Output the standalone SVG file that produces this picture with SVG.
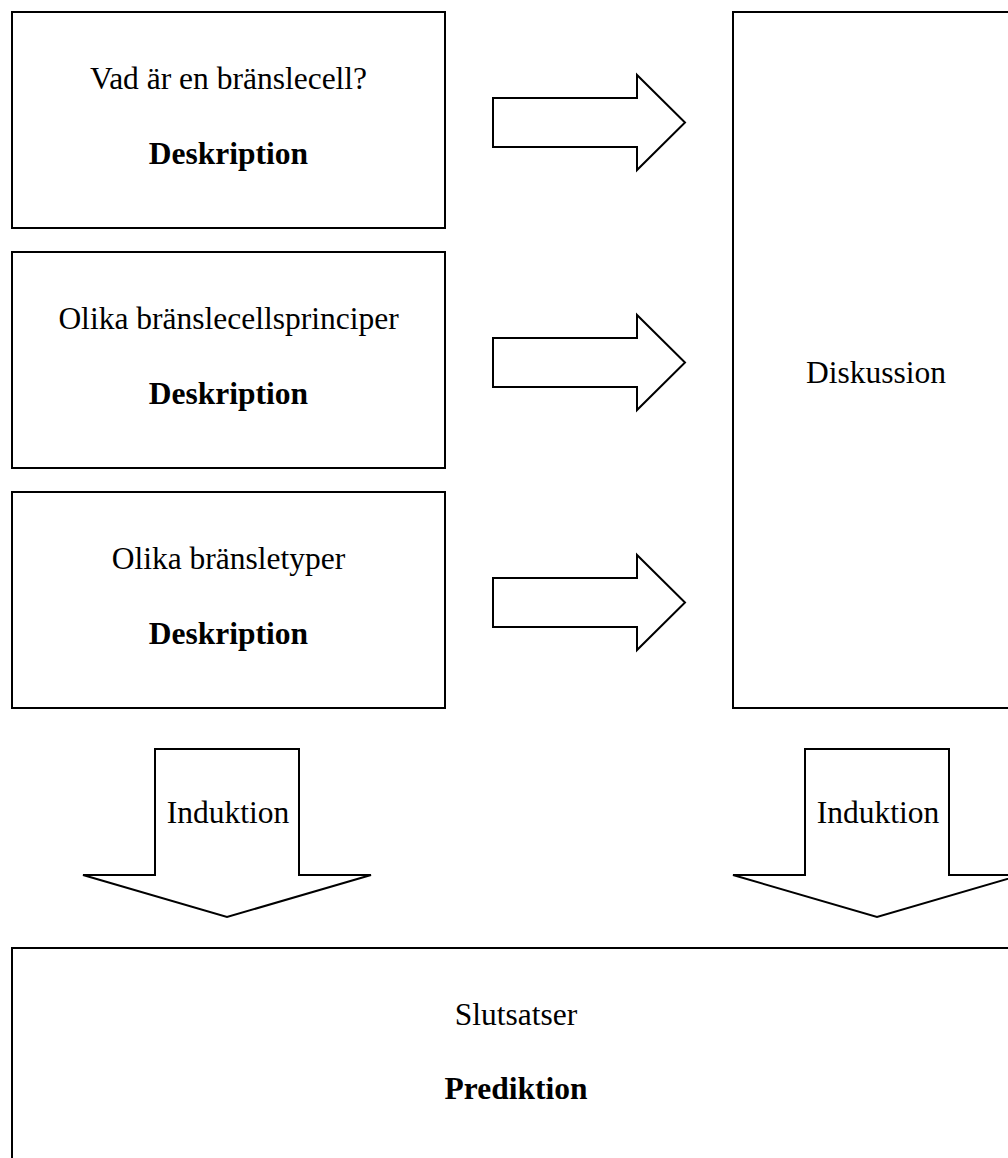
<svg xmlns="http://www.w3.org/2000/svg" width="1008" height="1158" viewBox="0 0 1008 1158">
<style>
.box{fill:#fff;stroke:#000;stroke-width:2}
.arr{fill:#fff;stroke:#000;stroke-width:2;stroke-linejoin:miter}
.t{font-family:"Liberation Serif","Times New Roman",serif;font-size:31.5px;fill:#000;text-anchor:middle}
.b{font-weight:bold}
</style>
<rect width="1008" height="1158" fill="#fff"/>
<g id="connectors">
<polygon class="arr" points="493,98 637,98 637,75 685,122.5 637,170 637,147 493,147"/>
<polygon class="arr" points="493,338 637,338 637,315 685,362.5 637,410 637,387 493,387"/>
<polygon class="arr" points="493,578 637,578 637,555 685,602.5 637,650 637,627 493,627"/>
<g id="induktion-left">
<polygon class="arr" points="155,749 299,749 299,875 371,875 227,917 83,875 155,875"/>
<text class="t" x="228" y="823">Induktion</text>
</g>
<g id="induktion-right">
<polygon class="arr" points="805,749 949,749 949,875 1021,875 877,917 733,875 805,875"/>
<text class="t" x="878" y="823">Induktion</text>
</g>
</g>
<g id="node-vad">
<rect class="box" x="12" y="12" width="433" height="216"/>
<text class="t" x="228.5" y="89">Vad är en bränslecell?</text>
<text class="t b" x="228.5" y="164">Deskription</text>
</g>
<g id="node-principer">
<rect class="box" x="12" y="252" width="433" height="216"/>
<text class="t" x="228.5" y="329">Olika bränslecellsprinciper</text>
<text class="t b" x="228.5" y="404">Deskription</text>
</g>
<g id="node-typer">
<rect class="box" x="12" y="492" width="433" height="216"/>
<text class="t" x="228.5" y="569">Olika bränsletyper</text>
<text class="t b" x="228.5" y="644">Deskription</text>
</g>
<g id="node-diskussion">
<rect class="box" x="733" y="12" width="287" height="696"/>
<text class="t" x="876" y="383">Diskussion</text>
</g>
<g id="node-slutsatser">
<rect class="box" x="12" y="948" width="1008" height="230"/>
<text class="t" x="516" y="1025">Slutsatser</text>
<text class="t b" x="516" y="1099">Prediktion</text>
</g>
</svg>
